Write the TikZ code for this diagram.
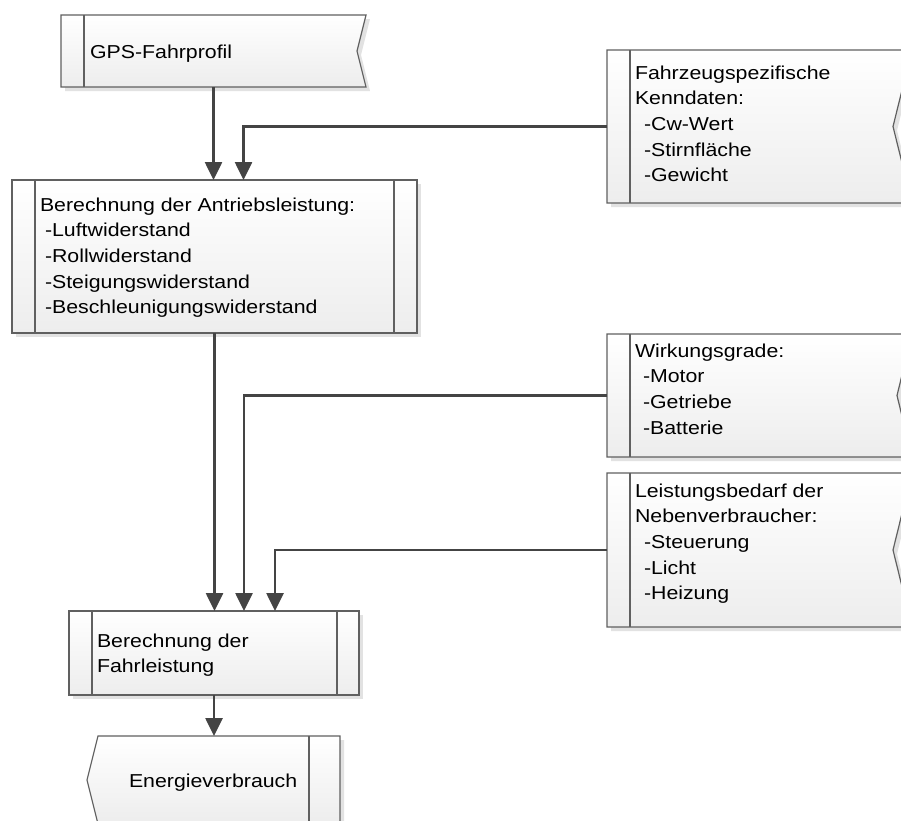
\documentclass[tikz,border=0pt]{standalone}
\usepackage{fontspec}
\setmainfont{Liberation Sans}[FakeStretch=1.14,Ligatures=NoCommon]
\usetikzlibrary{arrows.meta,calc}

\definecolor{edge}{HTML}{606060}
\definecolor{shadowgray}{HTML}{E2E2E2}
\definecolor{fillbottom}{HTML}{EDEDED}
\definecolor{arrowgray}{HTML}{444444}

% outline, gradient fill and drop shadow of one flowchart box
\newcommand\boxshape[1]{%
  \fill[shadowgray,transform canvas={shift={(4pt,-4pt)}}] #1;
  \shade[top color=white,bottom color=fillbottom] #1;
  \draw[boxline] #1;}

\tikzset{
  frame/.style={rectangle,inner sep=0pt,outer sep=0pt,anchor=north west},
  boxline/.style={draw=edge,line width=1.2pt},
  txt/.style={inner sep=0pt,outer sep=0pt,anchor=base west,text=black,
    font=\fontsize{18.7pt}{25.7pt}\selectfont},
  flow/.style={draw=arrowgray,line width=2.6pt,
    -{Triangle[width=17pt,length=18pt]}},
}

\newcommand\lines[1]{\parbox[t]{420pt}{\fontsize{18.7pt}{25.7pt}\selectfont\raggedright #1}}

\begin{document}
\begin{tikzpicture}[x=1pt,y=-1pt]
\useasboundingbox (0,0) rectangle (901,820);
\clip (0,0) rectangle (901,820);

% box frames
\node[frame,minimum width=305pt,minimum height=72pt]  (gps) at (61,15)  {};
\node[frame,minimum width=305pt,minimum height=153pt] (fz)  at (607,50) {};
\node[frame,minimum width=405pt,minimum height=153pt] (ant) at (12,180) {};
\node[frame,minimum width=305pt,minimum height=123pt] (wg)  at (607,334) {};
\node[frame,minimum width=305pt,minimum height=154pt] (lb)  at (607,473) {};
\node[frame,minimum width=290pt,minimum height=84pt]  (fl)  at (69,611) {};
\node[frame,minimum width=253pt,minimum height=88pt]  (en)  at (87,736) {};

% data boxes: notch on the right side
\boxshape{(gps.north west) -- (gps.north east) -- ([xshift=-9pt]gps.east) -- (gps.south east) -- (gps.south west) -- cycle}
\draw[boxline] ([xshift=23pt]gps.north west) -- ([xshift=23pt]gps.south west);

\boxshape{(fz.north west) -- (fz.north east) -- ([xshift=-19pt]fz.east) -- (fz.south east) -- (fz.south west) -- cycle}
\draw[boxline] ([xshift=23pt]fz.north west) -- ([xshift=23pt]fz.south west);

\boxshape{(wg.north west) -- (wg.north east) -- ([xshift=-15pt]wg.east) -- (wg.south east) -- (wg.south west) -- cycle}
\draw[boxline] ([xshift=23pt]wg.north west) -- ([xshift=23pt]wg.south west);

\boxshape{(lb.north west) -- (lb.north east) -- ([xshift=-19pt]lb.east) -- (lb.south east) -- (lb.south west) -- cycle}
\draw[boxline] ([xshift=23pt]lb.north west) -- ([xshift=23pt]lb.south west);

% process boxes: double side bars
\boxshape{(ant.north west) rectangle (ant.south east)}
\draw[boxline] ([xshift=23pt]ant.north west) -- ([xshift=23pt]ant.south west);
\draw[boxline] ([xshift=-23pt]ant.north east) -- ([xshift=-23pt]ant.south east);

\boxshape{(fl.north west) rectangle (fl.south east)}
\draw[boxline] ([xshift=23pt]fl.north west) -- ([xshift=23pt]fl.south west);
\draw[boxline] ([xshift=-22pt]fl.north east) -- ([xshift=-22pt]fl.south east);

% result box: notch on the left side
\boxshape{([xshift=11pt]en.north west) -- (en.north east) -- (en.south east) -- ([xshift=11pt]en.south west) -- (en.west) -- cycle}
\draw[boxline] ([xshift=-31pt]en.north east) -- ([xshift=-31pt]en.south east);

% texts
\node[txt] (gpsT) at (90,58) {GPS-Fahrprofil};
\node[txt] (fzT) at (635,79) {\lines{Fahrzeugspezifische\\Kenndaten:\\\hspace*{9pt}-Cw-Wert\\\hspace*{9pt}-Stirnfläche\\\hspace*{9pt}-Gewicht}};
\node[txt] (antT) at (40,211) {\lines{Berechnung der Antriebsleistung:\\\hspace*{5pt}-Luftwiderstand\\\hspace*{5pt}-Rollwiderstand\\\hspace*{5pt}-Steigungswiderstand\\\hspace*{5pt}-Beschleunigungswiderstand}};
\node[txt] (wgT) at (635,357) {\lines{Wirkungsgrade:\\\hspace*{8pt}-Motor\\\hspace*{8pt}-Getriebe\\\hspace*{8pt}-Batterie}};
\node[txt] (lbT) at (635,497) {\lines{Leistungsbedarf der\\Nebenverbraucher:\\\hspace*{9pt}-Steuerung\\\hspace*{9pt}-Licht\\\hspace*{9pt}-Heizung}};
\node[txt] (flT) at (97,647) {\lines{Berechnung der\\Fahrleistung}};
\node[txt] (enT) at (129,787) {Energieverbrauch};

% connectors
\draw[flow] (gps.south) -- (gps.south |- ant.north);
\draw[flow] (fz.west) -| ([xshift=29pt]ant.north);
\draw[flow] (ant.south) -- (ant.south |- fl.north);
\draw[flow] (wg.west) -| ([xshift=30pt]fl.north);
\draw[flow] (lb.west) -| ([xshift=61pt]fl.north);
\draw[flow] (fl.south) -- (fl.south |- en.north);
\end{tikzpicture}
\end{document}
